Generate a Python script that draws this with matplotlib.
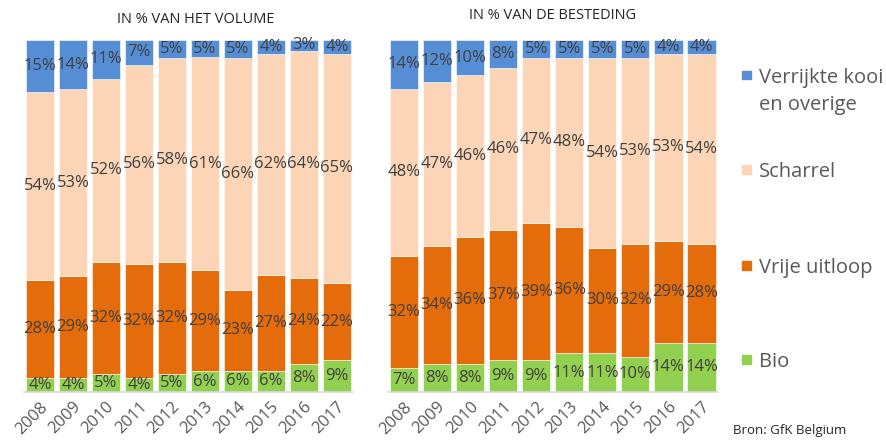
import numpy as np
import matplotlib
matplotlib.use("Agg")
import matplotlib.pyplot as plt

plt.rcParams['font.family'] = ['Open Sans', 'DejaVu Sans']

years = ['2008', '2009', '2010', '2011', '2012', '2013', '2014', '2015', '2016', '2017']
series = ['Bio', 'Vrije uitloop', 'Scharrel', 'Verrijkte kooi\nen overige']
colors = ['#92D050', '#E46C0A', '#FBD5B5', '#558ED5']

# share in volume (%)
vol_bio = [4, 4, 5, 4, 5, 6, 6, 6, 8, 9]
vol_vrije = [28, 29, 32, 32, 32, 29, 23, 27, 24, 22]
vol_scharrel = [54, 53, 52, 56, 58, 61, 66, 62, 64, 65]
vol_kooi = [15, 14, 11, 7, 5, 5, 5, 4, 3, 4]

# share in spending (%)
bes_bio = [7, 8, 8, 9, 9, 11, 11, 10, 14, 14]
bes_vrije = [32, 34, 36, 37, 39, 36, 30, 32, 29, 28]
bes_scharrel = [48, 47, 46, 46, 47, 48, 54, 53, 53, 54]
bes_kooi = [14, 12, 10, 8, 5, 5, 5, 5, 4, 4]

label_col = '#404040'
tick_col = '#595959'


def stacked(ax, data, title, title_x, title_y):
    data = np.array(data, dtype=float)
    tot = data.sum(axis=0)
    x = np.arange(len(years))
    bottom = np.zeros(len(years))
    for vals, col in zip(data, colors):
        h = vals / tot * 100
        bars = ax.bar(x, h, 0.85, bottom=bottom, color=col, edgecolor='white', linewidth=0.4)
        ax.bar_label(bars, labels=['%d%%' % v for v in vals], label_type='center',
                     color=label_col, fontsize=12)
        bottom += h
    ax.set_xlim(-0.5, len(years) - 0.5)
    ax.set_ylim(0, 100)
    ax.set_yticks([])
    ax.set_xticks(x)
    ax.set_xticklabels(years, rotation=45, ha='right', rotation_mode='anchor',
                       fontsize=12, color=tick_col)
    ax.tick_params(axis='x', length=0, pad=5)
    for s in ['top', 'right', 'left']:
        ax.spines[s].set_visible(False)
    ax.spines['bottom'].set_color('#D9D9D9')
    ax.spines['bottom'].set_linewidth(1.2)
    fig.text(title_x, title_y, title, ha='center', va='center', fontsize=10.5,
             color='#262626')


fig = plt.figure(figsize=(8.87, 4.47), dpi=100)
ax1 = fig.add_axes([0.0265, 0.123, 0.372, 0.7875])
ax2 = fig.add_axes([0.437, 0.123, 0.3725, 0.7875])

stacked(ax1, [vol_bio, vol_vrije, vol_scharrel, vol_kooi], 'IN % VAN HET VOLUME', 0.221, 0.957)
stacked(ax2, [bes_bio, bes_vrije, bes_scharrel, bes_kooi], 'IN % VAN DE BESTEDING', 0.623, 0.965)

# legend, top entry first
legend_y = [0.832, 0.62, 0.405, 0.195]
for i, yy in enumerate(legend_y):
    k = len(series) - 1 - i
    fig.patches.append(plt.Rectangle((0.837, yy - 0.009), 0.0095, 0.019,
                                     transform=fig.transFigure, color=colors[k]))
    for j, line in enumerate(series[k].split('\n')):
        fig.text(0.856, yy - j * 0.062, line, ha='left', va='center_baseline',
                 fontsize=14.5, color=tick_col)

fig.text(0.826, 0.038, 'Bron: GfK Belgium', ha='left', va='center', fontsize=9.5,
         color='#262626')

fig.savefig('out.png', dpi=100)
